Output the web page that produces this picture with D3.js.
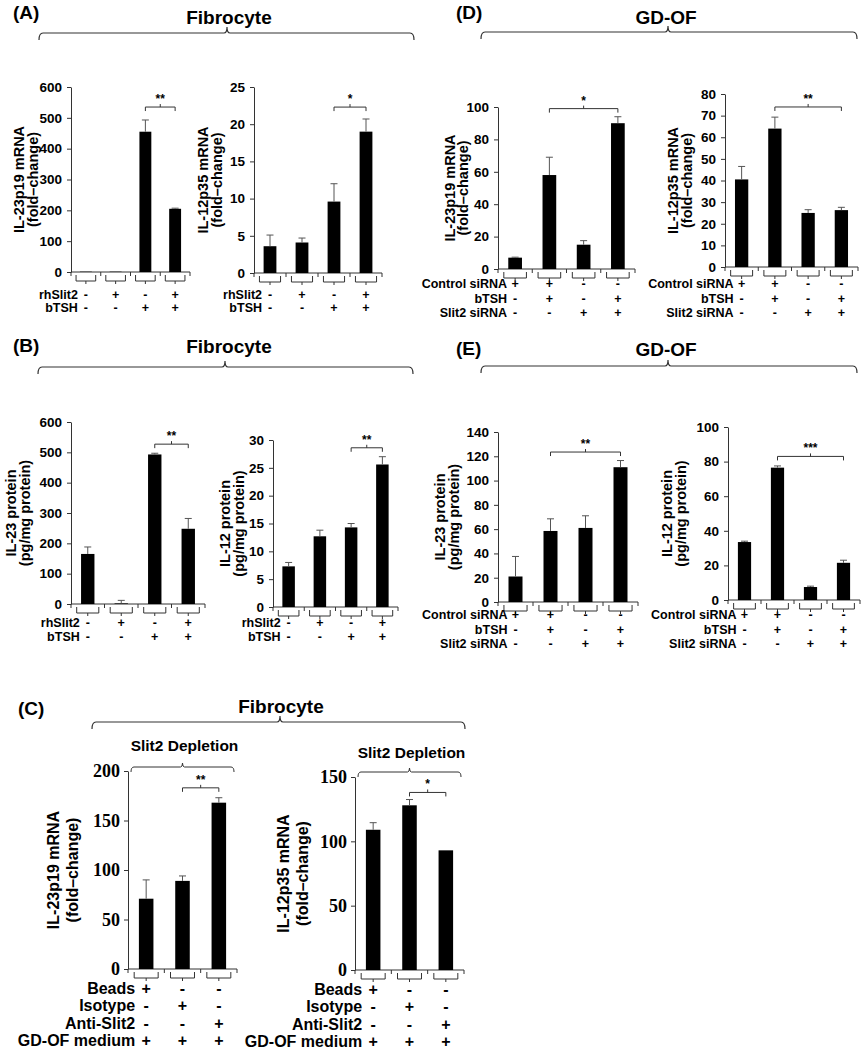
<!DOCTYPE html>
<html><head><meta charset="utf-8">
<script src="https://cdn.jsdelivr.net/npm/d3@7"></script>
<style>
body{margin:0;background:#fff;}
text{font-family:"Liberation Sans",Arial,sans-serif;font-weight:bold;fill:#000;}
</style>
</head><body><script>
// ---------------- DATA ----------------
const a1Values = [1, 1, 455, 205];
const a1Errors = [0, 0, 38, 2];
const a1Ticks = [0, 100, 200, 300, 400, 500, 600];
const a1YLabel = ["IL-23p19 mRNA", "(fold\u2013change)"];

const a2Values = [3.6, 4.1, 9.6, 19.0];
const a2Errors = [1.5, 0.6, 2.4, 1.7];
const a2Ticks = [0, 5, 10, 15, 20, 25];
const a2YLabel = ["IL-12p35 mRNA", "(fold\u2013change)"];

const d1Values = [7, 58, 15, 90];
const d1Errors = [0.3, 11, 2.5, 4];
const d1Ticks = [0, 20, 40, 60, 80, 100];
const d1YLabel = ["IL-23p19 mRNA", "(fold\u2013change)"];

const d2Values = [40.5, 64, 25, 26.3];
const d2Errors = [6, 5.3, 1.5, 1.3];
const d2Ticks = [0, 10, 20, 30, 40, 50, 60, 70, 80];
const d2YLabel = ["IL-12p35 mRNA", "(fold\u2013change)"];

const b1Values = [165, 2, 493, 248];
const b1Errors = [23, 10, 4, 34];
const b1Ticks = [0, 100, 200, 300, 400, 500, 600];
const b1YLabel = ["IL-23 protein", "(pg/mg protein)"];

const b2Values = [7.3, 12.7, 14.3, 25.6];
const b2Errors = [0.7, 1.1, 0.7, 1.4];
const b2Ticks = [0, 5, 10, 15, 20, 25, 30];
const b2YLabel = ["IL-12 protein", "(pg/mg protein)"];

const e1Values = [21, 58.5, 61, 111];
const e1Errors = [16.5, 10, 10, 5.5];
const e1Ticks = [0, 20, 40, 60, 80, 100, 120, 140];
const e1YLabel = ["IL-23 protein", "(pg/mg protein)"];

const e2Values = [33.5, 76.5, 7.5, 21.5];
const e2Errors = [0.5, 1, 0.5, 1.5];
const e2Ticks = [0, 20, 40, 60, 80, 100];
const e2YLabel = ["IL-12 protein", "(pg/mg protein)"];

const c1Values = [71, 89, 168];
const c1Errors = [19, 5, 5];
const c1Ticks = [0, 50, 100, 150, 200];
const c1YLabel = ["IL-23p19 mRNA", "(fold\u2013change)"];

const c2Values = [109, 128, 93];
const c2Errors = [5.5, 4.5, 0];
const c2Ticks = [0, 50, 100, 150];
const c2YLabel = ["IL-12p35 mRNA", "(fold\u2013change)"];

const slitRowLabels = ["rhSlit2", "bTSH"];
const slitRowMarks = [["-", "+", "-", "+"], ["-", "-", "+", "+"]];
const siRowLabels = ["Control siRNA", "bTSH", "Slit2 siRNA"];
const siRowMarks = [["+", "+", "-", "-"], ["-", "+", "-", "+"], ["-", "-", "+", "+"]];
const depRowLabels = ["Beads", "Isotype", "Anti-Slit2", "GD-OF medium"];
const depRowMarks = [["+", "-", "-"], ["-", "+", "-"], ["-", "-", "+"], ["+", "+", "+"]];

// significance: [fromBar, toBar, label, level]
const a1Sig = [2, 3, "**", 535];
const a2Sig = [2, 3, "*", 22.3];
const d1Sig = [1, 3, "*", 99];
const d2Sig = [1, 3, "**", 74];
const b1Sig = [2, 3, "**", 527];
const b2Sig = [2, 3, "**", 28.6];
const e1Sig = [1, 3, "**", 123.5];
const e2Sig = [1, 3, "***", 83];
const c1Sig = [1, 2, "**", 183];
const c2Sig = [1, 2, "*", 138];

const panelTitles = ["(A)", "(B)", "(C)", "(D)", "(E)"];
const cellTitles = ["Fibrocyte", "Fibrocyte", "Fibrocyte", "GD-OF", "GD-OF"];
const depletionTitle = "Slit2 Depletion";

// ---------------- DRAW ----------------
const svg = d3.select("body").append("svg").attr("width", 863).attr("height", 1050);
const AX = "#333", ERR = "#555";

function line(g, x1, y1, x2, y2, c, w) {
  g.append("line").attr("x1", x1).attr("y1", y1).attr("x2", x2).attr("y2", y2)
    .attr("stroke", c || AX).attr("stroke-width", w || 1);
}

function drawPanel(L, values, errors, ticks, ylab, sig, rowLabels, rowMarks) {
  const g = svg.append("g");
  const n = values.length;
  const y = d3.scaleLinear().domain([0, ticks[ticks.length - 1]]).range([L.bottom, L.top]);
  const x = d3.scaleBand().domain(d3.range(n)).range([L.left, L.right]).paddingInner(0.6).paddingOuter(0.3);
  const cx = i => x(i) + x.bandwidth() / 2;
  const half = x.step() / 2;

  const ya = g.append("g").attr("transform", `translate(${L.left},0)`)
    .call(d3.axisLeft(y).tickValues(ticks).tickSize(4).tickSizeOuter(0).tickPadding(L.tickPad));
  ya.select(".domain").attr("stroke", AX);
  ya.selectAll(".tick line").attr("stroke", AX);
  ya.selectAll(".tick text").style("font-size", L.tickFont + "px")
    .style("font-family", L.serif ? '"Liberation Serif","Times New Roman",serif' : null)
    .attr("fill", "#000");

  // x axis line + boundary ticks
  line(g, L.left, L.bottom, L.right, L.bottom);
  for (let i = 0; i <= n; i++) {
    const bx = i < n ? cx(i) - half : cx(n - 1) + half;
    line(g, bx, L.bottom, bx, L.bottom + 4);
  }
  // bars
  g.selectAll("rect.bar").data(values).join("rect").attr("class", "bar")
    .attr("x", (d, i) => x(i)).attr("width", x.bandwidth())
    .attr("y", d => y(d)).attr("height", d => y(0) - y(d)).attr("fill", "#000");
  // error bars
  values.forEach((v, i) => {
    if (errors[i] <= 0) return;
    const top = y(v + errors[i]);
    line(g, cx(i), y(v), cx(i), top, ERR);
    line(g, cx(i) - 3.5, top, cx(i) + 3.5, top, ERR);
  });
  // small group brackets under axis
  values.forEach((v, i) => {
    const w = x.step() * 0.33, c = cx(i), b = L.bottom;
    g.append("path").attr("d", `M${c - w},${b + 3}V${b + 9}H${c + w}V${b + 3}M${c},${b + 9}V${b + 12}`)
      .attr("fill", "none").attr("stroke", AX);
  });
  // significance bracket
  const sy = y(sig[3]);
  g.append("path").attr("d", `M${cx(sig[0])},${sy + 4}V${sy}H${cx(sig[1])}V${sy + 4}M${(cx(sig[0]) + cx(sig[1])) / 2},${sy}V${sy - 3}`)
    .attr("fill", "none").attr("stroke", AX);
  g.append("text").attr("x", (cx(sig[0]) + cx(sig[1])) / 2).attr("y", sy - 4)
    .attr("text-anchor", "middle").style("font-size", "12px").text(sig[2]);

  // y label
  const ym = (L.top + L.bottom) / 2 + (L.ylShift || 0);
  ylab.forEach((t, k) => {
    g.append("text").attr("transform", `translate(${L.ylx + k * L.ylGap},${ym}) rotate(-90)`)
      .attr("text-anchor", "middle").attr("dominant-baseline", "central")
      .style("font-size", L.ylFont + "px").text(t);
  });

  // rows
  rowLabels.forEach((lab, r) => {
    const ry = L.bottom + L.rowOff + r * L.rowGap;
    g.append("text").attr("x", cx(0) - L.labGap).attr("y", ry).attr("text-anchor", "end")
      .attr("dominant-baseline", "central").style("font-size", L.rowFont + "px").text(lab);
    rowMarks[r].forEach((m, i) => {
      g.append("text").attr("x", cx(i)).attr("y", ry).attr("text-anchor", "middle")
        .attr("dominant-baseline", "central").style("font-size", L.rowFont + "px").text(m);
    });
  });

  // depletion header (panel C)
  if (L.depY) {
    g.append("text").attr("x", (L.left + L.right) / 2 + 2).attr("y", L.depY).attr("text-anchor", "middle")
      .attr("dominant-baseline", "central").style("font-size", "15.5px").text(depletionTitle);
    const by = L.depBr, x0 = L.left + 3, x1 = L.right - 3, m = (x0 + x1) / 2;
    g.append("path").attr("d", `M${x0},${by + 5}Q${x0},${by} ${x0 + 3},${by}H${m - 2}Q${m},${by} ${m},${by - 4}Q${m},${by} ${m + 2},${by}H${x1 - 3}Q${x1},${by} ${x1},${by + 5}`)
      .attr("fill", "none").attr("stroke", AX);
  }
}

function header(tx, ty, title, cxT, cyT, cell, x0, x1, m, by) {
  svg.append("text").attr("x", tx).attr("y", ty).attr("dominant-baseline", "central")
    .style("font-size", "19px").text(title);
  svg.append("text").attr("x", cxT).attr("y", cyT).attr("text-anchor", "middle").attr("dominant-baseline", "central")
    .style("font-size", "19px").text(cell);
  svg.append("path").attr("d", `M${x0},${by + 7}Q${x0},${by} ${x0 + 4},${by}H${m - 3}Q${m},${by} ${m},${by - 6}Q${m},${by} ${m + 3},${by}H${x1 - 4}Q${x1},${by} ${x1},${by + 7}`)
    .attr("fill", "none").attr("stroke", AX).attr("stroke-width", 1.2);
}

header(13, 12, panelTitles[0], 229, 17, cellTitles[0], 39, 414, 227, 33);
header(456, 12, panelTitles[3], 666, 17, cellTitles[3], 481, 857, 668, 32);
header(13, 345, panelTitles[1], 229, 346, cellTitles[1], 38, 413, 225, 367);
header(456, 348, panelTitles[4], 666, 349, cellTitles[4], 481, 857, 668, 366);
header(18, 708, panelTitles[2], 281, 706, cellTitles[2], 92, 465, 280, 722);

const baseAB = {tickFont: 13.5, tickPad: 5, ylFont: 14.5, ylGap: 13.5, rowFont: 12.5, labGap: 8};
drawPanel(Object.assign({}, baseAB, {left: 71, right: 190, top: 87, bottom: 272, ylx: 19, rowOff: 23, rowGap: 13}),
  a1Values, a1Errors, a1Ticks, a1YLabel, a1Sig, slitRowLabels, slitRowMarks);
drawPanel(Object.assign({}, baseAB, {left: 254, right: 382, top: 87, bottom: 273, ylx: 203, rowOff: 22, rowGap: 13}),
  a2Values, a2Errors, a2Ticks, a2YLabel, a2Sig, slitRowLabels, slitRowMarks);
drawPanel(Object.assign({}, baseAB, {left: 498, right: 635, top: 107, bottom: 269, ylx: 450, ylGap: 12.5, rowOff: 15, rowGap: 14.5}),
  d1Values, d1Errors, d1Ticks, d1YLabel, d1Sig, siRowLabels, siRowMarks);
drawPanel(Object.assign({}, baseAB, {left: 725, right: 858, top: 94, bottom: 267, ylx: 673, rowOff: 17, rowGap: 14.5}),
  d2Values, d2Errors, d2Ticks, d2YLabel, d2Sig, siRowLabels, siRowMarks);
drawPanel(Object.assign({}, baseAB, {left: 71, right: 205, top: 422, bottom: 604, ylx: 11, rowOff: 19, rowGap: 14}),
  b1Values, b1Errors, b1Ticks, b1YLabel, b1Sig, slitRowLabels, slitRowMarks);
drawPanel(Object.assign({}, baseAB, {left: 273, right: 398, top: 440, bottom: 607, ylx: 225, rowOff: 16, rowGap: 14}),
  b2Values, b2Errors, b2Ticks, b2YLabel, b2Sig, slitRowLabels, slitRowMarks);
drawPanel(Object.assign({}, baseAB, {left: 498, right: 638, top: 432, bottom: 602, ylx: 440, rowOff: 13, rowGap: 14.5}),
  e1Values, e1Errors, e1Ticks, e1YLabel, e1Sig, siRowLabels, siRowMarks);
drawPanel(Object.assign({}, baseAB, {left: 728, right: 860, top: 427, bottom: 600, ylx: 667, rowOff: 15, rowGap: 14.5}),
  e2Values, e2Errors, e2Ticks, e2YLabel, e2Sig, siRowLabels, siRowMarks);

const baseC = {tickFont: 18, tickPad: 4, serif: true, ylFont: 16, ylGap: 19, rowFont: 16, labGap: 11, rowOff: 19, rowGap: 17.5};
drawPanel(Object.assign({}, baseC, {left: 128, right: 237, top: 771, bottom: 969, ylx: 53, depY: 745, depBr: 767}),
  c1Values, c1Errors, c1Ticks, c1YLabel, c1Sig, depRowLabels, depRowMarks);
drawPanel(Object.assign({}, baseC, {left: 355, right: 464, top: 777, bottom: 970, ylx: 283, depY: 752, depBr: 772}),
  c2Values, c2Errors, c2Ticks, c2YLabel, c2Sig, depRowLabels, depRowMarks);
</script></body></html>
